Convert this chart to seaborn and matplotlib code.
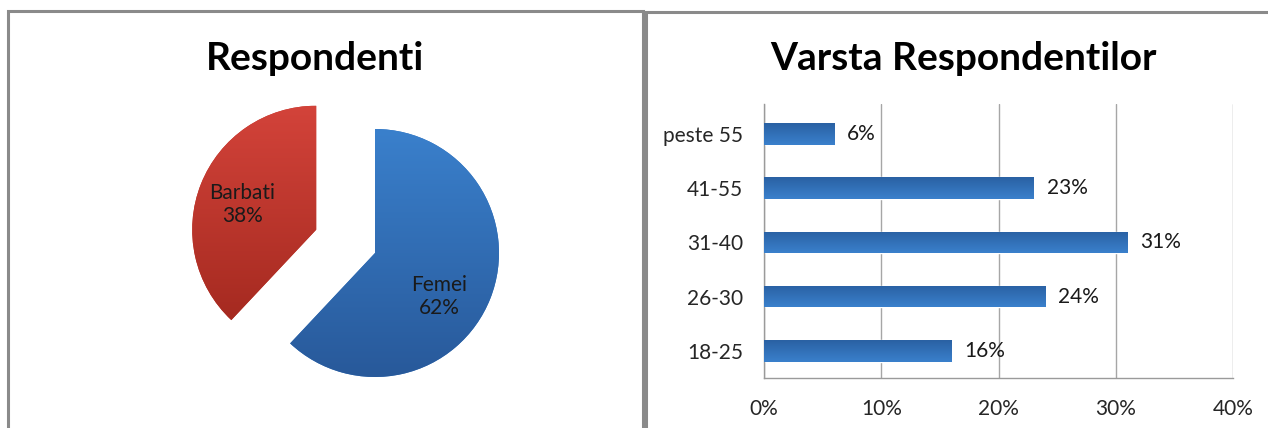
import numpy as np
import pandas as pd
import matplotlib
matplotlib.use("Agg")
import matplotlib.pyplot as plt
import seaborn as sns
from matplotlib.patches import Rectangle
from matplotlib.colors import LinearSegmentedColormap

# data
gen_labels = ["Femei", "Barbati"]
gen_values = [62, 38]
age_groups = ["peste 55", "41-55", "31-40", "26-30", "18-25"]
age_values = [6, 23, 31, 24, 16]
x_ticks = [0, 10, 20, 30, 40]

sns.set_theme(style="white")
plt.rcParams['font.family'] = ['Lato', 'DejaVu Sans']

W, H = 1268, 428
fig = plt.figure(figsize=(W / 100, H / 100), dpi=100)

def px(x0, y0, x1, y1):
    # pixel box (top-left origin) -> figure fraction rect
    return [x0 / W, 1 - y1 / H, (x1 - x0) / W, (y1 - y0) / H]

# panel borders
fig.patches.append(Rectangle((8 / W, -0.1), (643 - 8) / W, 1.1 - 11 / H,
                             transform=fig.transFigure, fill=False,
                             edgecolor="#8a8a8a", linewidth=2.2))
fig.patches.append(Rectangle((645.5 / W, -0.1), 1.0, 1.1 - 12 / H,
                             transform=fig.transFigure, fill=False,
                             edgecolor="#8a8a8a", linewidth=2.2))

fig.text(315 / W, 1 - 58 / H, "Respondenti", ha="center", va="center",
         fontsize=28, fontweight="bold", color="black")
fig.text(963 / W, 1 - 58 / H, "Varsta Respondentilor", ha="center", va="center",
         fontsize=28, fontweight="bold", color="black")

# ---- pie ----
R = 124
cx, cy = 375, 253
half = 1.8 * R
ax1 = fig.add_axes(px(cx - half, cy - half, cx + half, cy + half))
wedges, texts, autotexts = ax1.pie(gen_values, startangle=90, counterclock=False,
                                   explode=(0, 0.51), colors=["#3173c0", "#bf3428"],
                                   autopct="%d%%", pctdistance=0.64,
                                   wedgeprops=dict(linewidth=0))

grads = [("#3a80cc", "#28599a"), ("#d3433a", "#9e261c")]
for w, (c_top, c_bot), name, v, t in zip(wedges, grads, gen_labels, gen_values, autotexts):
    cmap = LinearSegmentedColormap.from_list("g", [c_bot, c_top])
    grad = np.linspace(0, 1, 256).reshape(-1, 1)
    cyw = w.center[1]
    im = ax1.imshow(grad, cmap=cmap, origin="lower", aspect="auto",
                    extent=(-2, 2, cyw - 1, cyw + 1), zorder=2)
    im.set_clip_path(w)
    t.set_text(f"{name}\n{v}%")
    t.set_fontsize(15)
    t.set_color("#1a1a1a")
    t.set_zorder(3)
    t.set_linespacing(1.2)
autotexts[0].set_position((0.52, -0.35))
x_b, y_b = autotexts[1].get_position()
autotexts[1].set_position((x_b, y_b - 0.03))
ax1.set_xlim(-1.8, 1.8)
ax1.set_ylim(-1.8, 1.8)
ax1.set_aspect("equal")
ax1.axis("off")

# ---- bars ----
ax2 = fig.add_axes(px(764, 104, 1233, 378))
df = pd.DataFrame({"grupa": age_groups, "procent": age_values})
sns.barplot(data=df, y="grupa", x="procent", order=age_groups, orient="h",
            color="#3173c0", width=0.4, saturation=1, ax=ax2)
ax2.set_xticks(x_ticks)
ax2.set_xticklabels([f"{t}%" for t in x_ticks], fontsize=15)
ax2.tick_params(axis="y", labelsize=15, pad=15, length=0)
ax2.tick_params(axis="x", pad=15, length=0)
ax2.set_xlabel("")
ax2.set_ylabel("")
ax2.grid(axis="x", color="#a6a6a6", linewidth=1)
ax2.set_axisbelow(True)
for s in ["top", "right"]:
    ax2.spines[s].set_visible(False)
for s in ["left", "bottom"]:
    ax2.spines[s].set_color("#9a9a9a")
    ax2.spines[s].set_linewidth(1)

cmap_b = LinearSegmentedColormap.from_list("b", ["#2a61a3", "#3a80cc"])
for p in ax2.patches:
    x0, y0 = p.get_x(), p.get_y()
    im = ax2.imshow(np.linspace(0, 1, 64).reshape(-1, 1), cmap=cmap_b, aspect="auto",
                    origin="upper", extent=(x0, x0 + p.get_width(), y0 + p.get_height(), y0),
                    zorder=3)
    im.set_clip_path(p)
ax2.set_xlim(0, 40)
ax2.set_ylim(4.5, -0.55)

for i, v in enumerate(age_values):
    ax2.text(v + 1.1, i, f"{v}%", va="center", ha="left", fontsize=15, color="#1a1a1a", zorder=4)

fig.savefig("out.png", dpi=100)
